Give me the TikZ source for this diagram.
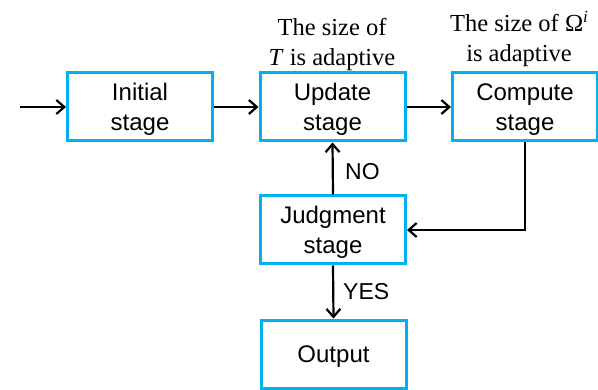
\documentclass[tikz,border=0pt]{standalone}
\usepackage{fontspec}
\setmainfont{Liberation Serif}
\newfontfamily\boxfont{Liberation Sans}
\usetikzlibrary{arrows.meta,positioning}
\definecolor{stageblue}{RGB}{0,176,240}
\tikzset{
  stagebox/.style={draw=stageblue, line width=3pt, minimum width=145pt, minimum height=68pt,
    inner sep=0pt, text depth=0pt, align=center, font=\boxfont\fontsize{24pt}{30pt}\selectfont},
  flow/.style={line width=2.2pt, -{Straight Barb[length=8pt,width=14pt,line width=2.2pt]}},
  note/.style={align=center, inner sep=0pt, font=\fontsize{24.5pt}{30pt}\selectfont},
  tag/.style={inner sep=0pt, anchor=west, font=\boxfont\fontsize{23pt}{26pt}\selectfont}
}
\begin{document}
\begin{tikzpicture}[x=1pt,y=1pt]
\useasboundingbox (0,0) rectangle (598,389);
% stages
\node[stagebox] (init) at (140,282) {Initial\\stage};
\node[stagebox] (upd)  at (332.5,282) {Update\\stage};
\node[stagebox] (comp) at (525,282) {Compute\\stage};
\node[stagebox] (judge) at (333,159) {Judgment\\stage};
\node[stagebox] (out) at (333.5,35) {Output};
% notes above the update and compute stages
\node[note] (noteT) at (332,345) {The size of\\\textit{T} is adaptive};
\node[note] (noteO) at (519,350) {The size of \char"03A9\raisebox{9pt}{\fontsize{17pt}{17pt}\selectfont\textit{i}}\\is adaptive};
% connectors
\coordinate (start) at (20,282);
\draw[flow] (start) -- (init.west);
\draw[flow] (init.east) -- (upd.west);
\draw[flow] (upd.east) -- (comp.west);
\draw[flow] (comp.south) |- (judge.east);
\draw[flow] (judge.north) -- (upd.south);
\draw[flow] (judge.south) -- (out.north);
% branch labels
\node[tag] (no) at (345,217) {NO};
\node[tag] (yes) at (343,97) {YES};
\end{tikzpicture}
\end{document}
